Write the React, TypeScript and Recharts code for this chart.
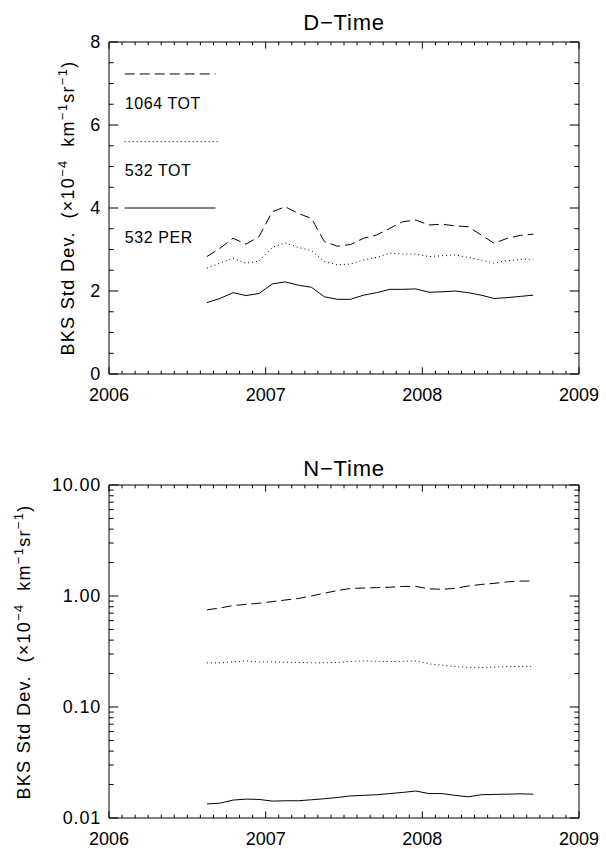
import React from 'react';
import { LineChart, Line, XAxis, YAxis, ReferenceArea, ReferenceLine, ReferenceDot } from 'recharts';

// ---- data (monthly means, decimal year) ----
const times = [
  2006.625, 2006.708, 2006.792, 2006.875, 2006.958,
  2007.042, 2007.125, 2007.208, 2007.292, 2007.375, 2007.458, 2007.542,
  2007.625, 2007.708, 2007.792, 2007.875, 2007.958,
  2008.042, 2008.125, 2008.208, 2008.292, 2008.375, 2008.458, 2008.542,
  2008.625, 2008.708,
];

const dayTot1064 = [
  2.83, 3.03, 3.27, 3.13, 3.31, 3.91, 4.03, 3.87, 3.75, 3.19, 3.08, 3.12,
  3.27, 3.35, 3.51, 3.67, 3.71, 3.59, 3.61, 3.57, 3.55, 3.35, 3.15, 3.27,
  3.34, 3.37,
];
const dayTot532 = [
  2.55, 2.67, 2.79, 2.67, 2.72, 3.05, 3.16, 3.05, 2.97, 2.71, 2.63, 2.65,
  2.75, 2.81, 2.91, 2.89, 2.89, 2.83, 2.85, 2.87, 2.81, 2.75, 2.67, 2.73,
  2.76, 2.77,
];
const dayPer532 = [
  1.72, 1.82, 1.96, 1.89, 1.94, 2.17, 2.22, 2.14, 2.09, 1.86, 1.80, 1.80,
  1.90, 1.96, 2.04, 2.04, 2.05, 1.97, 1.98, 2.00, 1.96, 1.90, 1.82, 1.84,
  1.87, 1.90,
];

const nightTot1064 = [
  0.75, 0.78, 0.82, 0.84, 0.86, 0.89, 0.92, 0.95, 1.00, 1.06, 1.12, 1.17,
  1.18, 1.19, 1.20, 1.22, 1.22, 1.16, 1.15, 1.17, 1.23, 1.27, 1.30, 1.34,
  1.36, 1.37,
];
const nightTot532 = [
  0.250, 0.250, 0.255, 0.260, 0.255, 0.255, 0.253, 0.252, 0.250, 0.250, 0.252, 0.257,
  0.260, 0.258, 0.257, 0.258, 0.260, 0.245, 0.238, 0.232, 0.228, 0.227, 0.229, 0.231,
  0.232, 0.232,
];
const nightPer532 = [
  0.0134, 0.0136, 0.0145, 0.0148, 0.0147, 0.0142, 0.0143, 0.0143, 0.0146, 0.0149, 0.0153, 0.0158,
  0.0160, 0.0162, 0.0166, 0.0170, 0.0175, 0.0166, 0.0166, 0.0160, 0.0155, 0.0162, 0.0163, 0.0164,
  0.0165, 0.0164,
];

const legendLabels = ['1064 TOT', '532 TOT', '532 PER'];
const titles = ['D\u2212Time', 'N\u2212Time'];
const xDomain = [2006, 2009];
const dayYDomain = [0, 8];
const nightYDomain = [0.01, 10];

// ---- tick positions ----
const monthTicks = Array.from({ length: 37 }, (_, k) => 2006 + k / 12);
const dayYTicks = Array.from({ length: 17 }, (_, k) => k * 0.5);
const nightYTicks: number[] = [];
[-2, -1, 0].forEach((e) => {
  for (let m = 1; m <= 9; m++) nightYTicks.push(Number((m * Math.pow(10, e)).toPrecision(3)));
});
nightYTicks.push(10);

const dayData = times.map((t, i) => ({ t, tot1064: dayTot1064[i], tot532: dayTot532[i], per532: dayPer532[i] }));
const nightData = times.map((t, i) => ({ t, tot1064: nightTot1064[i], tot532: nightTot532[i], per532: nightPer532[i] }));

// ---- layout ----
const W = 606;
const PLOT_L = 109;
const PLOT_W = 470;
const FONT = "'Liberation Sans', Arial, sans-serif";
const TICK_FS = 18;
const DASH = '10 5';
const DOT = '1 3';

const isInt = (v: number) => Math.abs(v - Math.round(v)) < 1e-6;

const makeXTick = (plotH: number) => (props: any) => {
  const { x, y, payload } = props;
  const v = payload.value;
  const major = isInt(v);
  const len = major ? 6.6 : 3.3;
  return (
    <g>
      <line x1={x} x2={x} y1={y} y2={y - len} stroke="#000" strokeWidth={1} />
      <line x1={x} x2={x} y1={y - plotH} y2={y - plotH + len} stroke="#000" strokeWidth={1} />
      {major && (
        <text x={x} y={y + 27} textAnchor="middle" fontFamily={FONT} fontSize={TICK_FS} fill="#000">
          {Math.round(v)}
        </text>
      )}
    </g>
  );
};

const makeYTick = (isMajor: (v: number) => boolean, fmt: (v: number) => string) => (props: any) => {
  const { x, y, payload } = props;
  const v = payload.value;
  const major = isMajor(v);
  const len = major ? 9.4 : 4.7;
  return (
    <g>
      <line x1={x} x2={x + len} y1={y} y2={y} stroke="#000" strokeWidth={1} />
      <line x1={x + PLOT_W} x2={x + PLOT_W - len} y1={y} y2={y} stroke="#000" strokeWidth={1} />
      {major && (
        <text x={x - 8} y={y} dy="0.36em" textAnchor="end" fontFamily={FONT} fontSize={TICK_FS} fill="#000" letterSpacing={0.8}>
          {fmt(v)}
        </text>
      )}
    </g>
  );
};

const dayYTick = makeYTick((v) => isInt(v / 2), (v) => String(v));
const nightYTick = makeYTick((v) => isInt(Math.log10(v)), (v) => v.toFixed(2));

const YLabel = ({ cx, cy }: { cx: number; cy: number }) => (
  <text
    x={cx}
    y={cy}
    transform={`rotate(-90 ${cx} ${cy})`}
    textAnchor="middle"
    fontFamily={FONT}
    fontSize={18}
    letterSpacing={1.3}
    fill="#000"
    style={{ whiteSpace: 'pre' }}
  >
    <tspan>{'BKS Std Dev.  (×10'}</tspan>
    <tspan dy={-7} fontSize={13}>−4</tspan>
    <tspan dy={7}>{'  km'}</tspan>
    <tspan dy={-7} fontSize={13}>−1</tspan>
    <tspan dy={7}>sr</tspan>
    <tspan dy={-7} fontSize={13}>−1</tspan>
    <tspan dy={7}>)</tspan>
  </text>
);

const lineProps = { type: 'linear' as const, stroke: '#000', strokeWidth: 1, dot: false, isAnimationActive: false };

export default function App() {
  const dayPlotH = 332;
  const nightPlotH = 333;
  return (
    <div style={{ position: 'absolute', left: 0, top: 0, width: W, height: 849, background: '#fff' }}>
      <div style={{ position: 'absolute', left: 0, top: 0 }}>
        <LineChart width={W} height={420} data={dayData} margin={{ top: 42, right: 27, bottom: 16, left: PLOT_L - 60 }}>
          <XAxis
            dataKey="t"
            type="number"
            domain={xDomain}
            ticks={monthTicks}
            interval={0}
            allowDataOverflow
            axisLine={false}
            tickLine={false}
            tickSize={0}
            tickMargin={0}
            height={30}
            tick={makeXTick(dayPlotH)}
          />
          <YAxis
            type="number"
            domain={dayYDomain}
            ticks={dayYTicks}
            interval={0}
            allowDataOverflow
            axisLine={false}
            tickLine={false}
            tickSize={0}
            tickMargin={0}
            width={60}
            tick={dayYTick}
          />
          <ReferenceArea x1={2006} x2={2009} y1={0} y2={8} fill="none" stroke="#000" strokeWidth={1} />
          <Line dataKey="tot1064" {...lineProps} strokeDasharray={DASH} />
          <Line dataKey="tot532" {...lineProps} strokeDasharray={DOT} />
          <Line dataKey="per532" {...lineProps} />
          <ReferenceLine segment={[{ x: 2006.1, y: 7.23 }, { x: 2006.68, y: 7.23 }]} stroke="#000" strokeDasharray={DASH} />
          <ReferenceLine segment={[{ x: 2006.1, y: 5.6 }, { x: 2006.7, y: 5.6 }]} stroke="#000" strokeDasharray={DOT} />
          <ReferenceLine segment={[{ x: 2006.1, y: 4.0 }, { x: 2006.68, y: 4.0 }]} stroke="#000" />
          {[6.53, 4.92, 3.3].map((yv, i) => (
            <ReferenceDot
              key={i}
              x={2006.1}
              y={yv}
              r={0}
              fill="none"
              stroke="none"
              label={{ value: legendLabels[i], position: 'right', offset: 0, fill: '#000', fontSize: 16, fontFamily: FONT, letterSpacing: 0.6 }}
            />
          ))}
        </LineChart>
      </div>
      <div style={{ position: 'absolute', left: 0, top: 420 }}>
        <LineChart width={W} height={429} data={nightData} margin={{ top: 65, right: 27, bottom: 1, left: PLOT_L - 60 }}>
          <XAxis
            dataKey="t"
            type="number"
            domain={xDomain}
            ticks={monthTicks}
            interval={0}
            allowDataOverflow
            axisLine={false}
            tickLine={false}
            tickSize={0}
            tickMargin={0}
            height={30}
            tick={makeXTick(nightPlotH)}
          />
          <YAxis
            type="number"
            scale="log"
            domain={nightYDomain}
            ticks={nightYTicks}
            interval={0}
            allowDataOverflow
            axisLine={false}
            tickLine={false}
            tickSize={0}
            tickMargin={0}
            width={60}
            tick={nightYTick}
          />
          <ReferenceArea x1={2006} x2={2009} y1={0.01} y2={10} fill="none" stroke="#000" strokeWidth={1} />
          <Line dataKey="tot1064" {...lineProps} strokeDasharray={DASH} />
          <Line dataKey="tot532" {...lineProps} strokeDasharray={DOT} />
          <Line dataKey="per532" {...lineProps} />
        </LineChart>
      </div>
      <svg width={W} height={849} style={{ position: 'absolute', left: 0, top: 0, pointerEvents: 'none' }}>
        <text x={PLOT_L + PLOT_W / 2} y={30} textAnchor="middle" fontFamily={FONT} fontSize={22} letterSpacing={0.8} fill="#000">
          {titles[0]}
        </text>
        <text x={PLOT_L + PLOT_W / 2} y={476} textAnchor="middle" fontFamily={FONT} fontSize={22} letterSpacing={0.8} fill="#000">
          {titles[1]}
        </text>
        <YLabel cx={74} cy={208} />
        <YLabel cx={30} cy={652} />
      </svg>
    </div>
  );
}
